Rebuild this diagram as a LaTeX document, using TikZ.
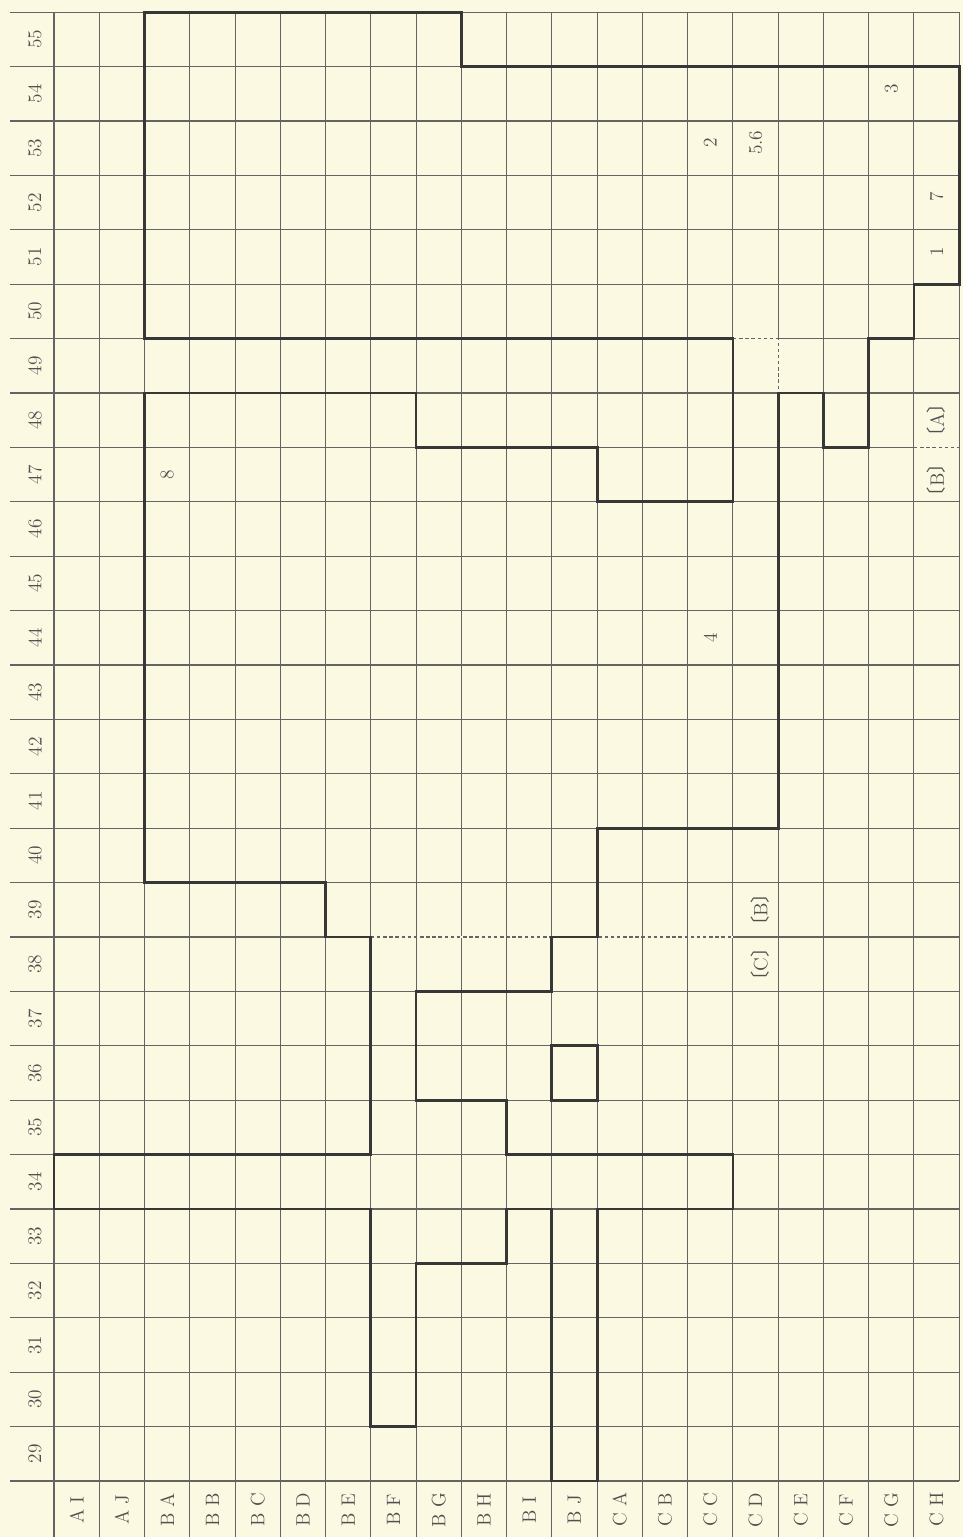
\documentclass[tikz,border=0pt]{standalone}
\usepackage{fontspec}
\usepackage{tikz}
\usetikzlibrary{positioning}
\newfontfamily\cjk[CharacterWidth=AlternateHalf]{Noto Sans CJK JP}
\definecolor{paper}{RGB}{252,249,226}
\definecolor{gridline}{RGB}{100,100,100}
\definecolor{wallline}{RGB}{55,55,55}
\definecolor{labeltext}{RGB}{80,80,80}

\begin{document}
\begin{tikzpicture}[
    x=0.9052cm, y=1.088cm,
    grid/.style={gridline, line width=0.6pt},
    wall/.style={wallline, line width=1.6pt, line join=miter},
    split/.style={gridline, line width=0.6pt, dash pattern=on 2pt off 1.5pt,
                  preaction={draw=paper, line width=1.2pt, solid}},
    tag/.style={font=\fontsize{11}{13}\selectfont, text=labeltext, rotate=90, inner sep=1pt}
]
\fill[paper] (-1.193,-1.029) rectangle (20.084,27.224);
\useasboundingbox (-1.193,-1.029) rectangle (20.084,27.224);

% sheet grid
\foreach \l in {0,...,27} \draw[grid] (-0.97,\l) -- (20,\l);
\foreach \c in {0,...,19} \draw[grid] (\c,27) -- (\c,-1.029);
\draw[grid] (20,27) -- (20,0);

% row and column headings
\foreach \r [count=\i from 0] in {29,...,55}
    \node[tag] (row\r) at (-0.42,\i+0.5) {\r};
\foreach \c [count=\i from 0] in {A I, A J, B A, B B, B C, B D, B E, B F, B G, B H,
                                  B I, B J, C A, C B, C C, C D, C E, C F, C G, C H}
    \node[tag] (col\i) at (\i+0.5,-0.53) {\c};

% zone borders
\draw[split] (15,21) -- (16,21) -- (16,20);
\draw[split] (19,19) -- (20,19);
\draw[split] (7,10) -- (15,10);

% outline
\draw[wall] (2,21) -- (2,27) -- (9,27) -- (9,26) -- (20,26) -- (20,22) -- (19,22)
    -- (19,21) -- (18,21) -- (18,19) -- (17,19) -- (17,20) -- (16,20) -- (16,12)
    -- (12,12) -- (12,10) -- (11,10) -- (11,9) -- (8,9) -- (8,7) -- (10,7) -- (10,6)
    -- (15,6) -- (15,5) -- (12,5) -- (12,0) -- (11,0) -- (11,5) -- (10,5) -- (10,4)
    -- (8,4) -- (8,1) -- (7,1) -- (7,5) -- (0,5) -- (0,6) -- (7,6) -- (7,10) -- (6,10)
    -- (6,11) -- (2,11) -- (2,20) -- (8,20) -- (8,19) -- (12,19) -- (12,18) -- (15,18)
    -- (15,21) -- cycle;
\draw[wall] (11,7) rectangle (12,8);

% marks
\node[tag] (m8) at (2.5,18.5) {8};
\node[tag] (m4) at (14.5,15.5) {4};
\node[tag] (m2) at (14.5,24.6) {2};
\node[tag] (m56) at (15.5,24.6) {5.6};
\node[tag] (m3) at (18.5,25.6) {3};
\node[tag] (m7) at (19.5,23.6) {7};
\node[tag] (m1) at (19.5,22.6) {1};
\node[tag] (zA) at (19.5,19.5) {{\cjk 〔}A{\cjk 〕}};
\node[tag] (zB) at (19.5,18.4) {{\cjk 〔}B{\cjk 〕}};
\node[tag] (zB2) at (15.6,10.5) {{\cjk 〔}B{\cjk 〕}};
\node[tag] (zC) at (15.6,9.5) {{\cjk 〔}C{\cjk 〕}};
\end{tikzpicture}
\end{document}
